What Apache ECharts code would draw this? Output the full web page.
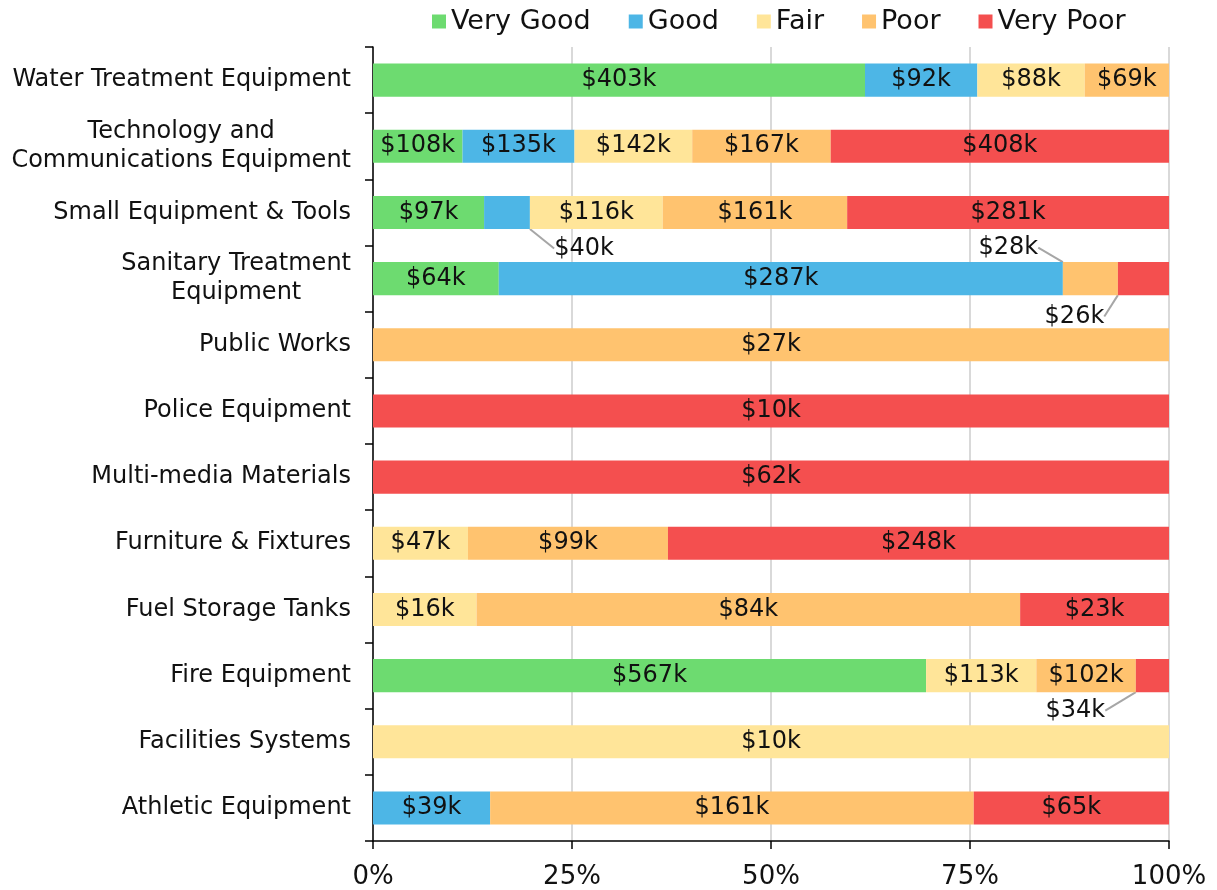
<!DOCTYPE html>
<html>
<head>
<meta charset="utf-8">
<script src="https://cdn.jsdelivr.net/npm/echarts@6/dist/echarts.min.js"></script>
<style>
  html, body { margin: 0; padding: 0; background: #fff; }
  #chartmain { width: 1217px; height: 890px; }
</style>
</head>
<body>
<div id="chartmain"></div>
<script>
// categories, top to bottom
var categories = [
  'Water Treatment Equipment',
  'Technology and\nCommunications Equipment',
  'Small Equipment & Tools',
  'Sanitary Treatment\nEquipment',
  'Public Works',
  'Police Equipment',
  'Multi-media Materials',
  'Furniture & Fixtures',
  'Fuel Storage Tanks',
  'Fire Equipment',
  'Facilities Systems',
  'Athletic Equipment'
];
var seriesNames = ['Very Good', 'Good', 'Fair', 'Poor', 'Very Poor'];
// values in $k
var veryGood = [403, 108, 97, 64, 0, 0, 0, 0, 0, 567, 0, 0];
var good     = [92, 135, 40, 287, 0, 0, 0, 0, 0, 0, 0, 39];
var fair     = [88, 142, 116, 0, 0, 0, 0, 47, 16, 113, 10, 0];
var poor     = [69, 167, 161, 28, 27, 0, 0, 99, 84, 102, 0, 161];
var veryPoor = [0, 408, 281, 26, 0, 10, 62, 248, 23, 34, 0, 65];
var tickLabels = ['0%', '25%', '50%', '75%', '100%'];

var raw = [veryGood, good, fair, poor, veryPoor];
var colors = ['#6ddb70', '#4db6e6', '#ffe599', '#ffc36f', '#f44f4f'];

// small segments whose label sits outside with a leader line
var callouts = {
  'Small Equipment & Tools|Good': { dx: 77, dy: 36 },
  'Sanitary Treatment\nEquipment|Poor': { dx: -82, dy: -31 },
  'Sanitary Treatment\nEquipment|Very Poor': { dx: -69, dy: 38 },
  'Fire Equipment|Very Poor': { dx: -77, dy: 35 }
};

var totals = categories.map(function (c, i) {
  var s = 0;
  for (var k = 0; k < raw.length; k++) s += raw[k][i];
  return s;
});

var series = [];
for (var k = 0; k < raw.length; k++) {
  var data = [];
  for (var i = 0; i < categories.length; i++) {
    var v = raw[k][i];
    if (!v) { data.push(null); continue; }
    var item = { value: v / totals[i] * 100 };
    if (callouts[categories[i] + '|' + seriesNames[k]]) {
      item.labelLine = { show: true, lineStyle: { color: '#a6a6a6', width: 2 } };
    }
    data.push(item);
  }
  series.push({
    name: seriesNames[k],
    type: 'bar',
    stack: 'total',
    barWidth: '50%',
    itemStyle: { color: colors[k] },
    label: {
      show: true,
      position: 'inside',
      color: '#111',
      fontFamily: 'DejaVu Sans',
      fontSize: 24,
      formatter: (function (kk) {
        return function (p) { return '$' + raw[kk][p.dataIndex] + 'k'; };
      })(k)
    },
    labelLayout: (function (kk) {
      return function (p) {
        var c = callouts[categories[p.dataIndex] + '|' + seriesNames[kk]];
        if (!c) return {};
        var r = p.rect, lr = p.labelRect;
        var lx = lr.x + c.dx, ly = lr.y + c.dy + lr.height / 2;
        var sx = r.x + r.width / 2;
        var sy = c.dy > 0 ? r.y + r.height : r.y;
        var pts;
        if (c.dx > 0) {
          pts = [[sx, sy], [lx - 20, ly], [lx - 8, ly]];
        } else {
          var rx = lx + lr.width;
          pts = [[sx, sy], [rx + 20, ly], [rx + 8, ly]];
        }
        return { dx: c.dx, dy: c.dy, labelLinePoints: pts };
      };
    })(k),
    data: data
  });
}

var option = {
  animation: false,
  textStyle: { fontFamily: 'DejaVu Sans' },
  legend: {
    top: 3,
    left: 427,
    icon: 'rect',
    itemWidth: 14,
    itemHeight: 14,
    itemGap: 38,
    textStyle: { fontSize: 27, color: '#111', fontFamily: 'DejaVu Sans' },
    data: seriesNames
  },
  grid: { left: 373, right: 48, top: 47, bottom: 49, containLabel: false },
  xAxis: {
    type: 'value',
    min: 0,
    max: 100,
    interval: 25,
    axisLine: { show: true, lineStyle: { color: '#000', width: 1.5 } },
    axisTick: { show: true, length: 8, lineStyle: { color: '#000', width: 1.5 } },
    splitLine: { show: true, lineStyle: { color: '#d9d9d9', width: 2 } },
    axisLabel: {
      margin: 23,
      fontSize: 26,
      color: '#111',
      formatter: function (v) { return tickLabels[v / 25]; }
    }
  },
  yAxis: {
    type: 'category',
    inverse: true,
    data: categories,
    axisLine: { show: true, lineStyle: { color: '#000', width: 1.5 } },
    axisTick: { show: true, length: 8, lineStyle: { color: '#000', width: 1.5 } },
    axisLabel: {
      margin: 22,
      fontSize: 24,
      color: '#111',
      formatter: function (v) {
        return v.split('\n').map(function (s) { return '{c|' + s + '}'; }).join('\n');
      },
      rich: { c: { align: 'center', fontSize: 24, color: '#111', fontFamily: 'DejaVu Sans', lineHeight: 29 } }
    }
  },
  series: series
};

var myChart = echarts.init(document.getElementById('chartmain'));
myChart.setOption(option);
</script>
</body>
</html>
